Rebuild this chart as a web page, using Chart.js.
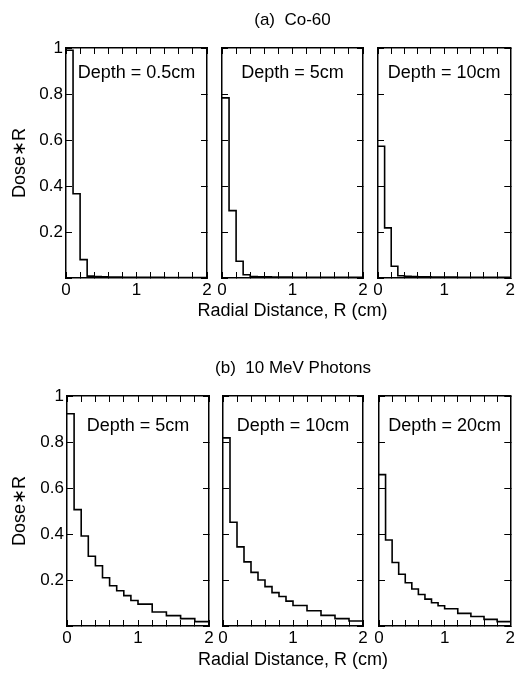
<!DOCTYPE html>
<html><head><meta charset="utf-8">
<script src="https://cdn.jsdelivr.net/npm/chart.js@4.4.1/dist/chart.umd.min.js"></script>
<style>
html,body{margin:0;padding:0;background:#fff;}
#wrap{position:relative;width:523px;height:674px;overflow:hidden;}
canvas{position:absolute;left:0;}
</style></head><body>
<div id="wrap">
<canvas id="a1" width="523" height="322" style="top:0"></canvas>
<canvas id="a2" width="523" height="322" style="top:0"></canvas>
<canvas id="a3" width="523" height="322" style="top:0"></canvas>
<canvas id="b1" width="523" height="349" style="top:325px"></canvas>
<canvas id="b2" width="523" height="349" style="top:325px"></canvas>
<canvas id="b3" width="523" height="349" style="top:325px"></canvas>
</div>
<script>
// ---- data ----
const binEdges = [0, 0.1, 0.2, 0.3, 0.4, 0.5, 0.6, 0.7, 0.8, 0.9, 1.0, 1.2, 1.4, 1.6, 1.8, 2.0];
const xLabelValues = [0, 1, 2];
const yLabelValues = [0.2, 0.4, 0.6, 0.8, 1];
const rowTitles = ['(a)  Co-60', '(b)  10 MeV Photons'];
const xAxisTitle = 'Radial Distance, R (cm)';
const yAxisTitle = 'Dose\u2217R';
const depthLabelsA = ['Depth = 0.5cm', 'Depth = 5cm', 'Depth = 10cm'];
const depthLabelsB = ['Depth = 5cm', 'Depth = 10cm', 'Depth = 20cm'];

const co60Depth05 = [0.99, 0.366, 0.08, 0.008, 0.006, 0.005, 0.004, 0.004, 0.003, 0.003, 0.003, 0.003, 0.002, 0.002, 0.002];
const co60Depth5  = [0.783, 0.293, 0.073, 0.014, 0.006, 0.005, 0.005, 0.004, 0.004, 0.004, 0.003, 0.003, 0.003, 0.003, 0.003];
const co60Depth10 = [0.573, 0.218, 0.051, 0.01, 0.007, 0.006, 0.005, 0.005, 0.004, 0.004, 0.004, 0.003, 0.003, 0.003, 0.003];
const mev10Depth5  = [0.923, 0.506, 0.391, 0.303, 0.262, 0.21, 0.175, 0.153, 0.132, 0.111, 0.095, 0.061, 0.045, 0.032, 0.019];
const mev10Depth10 = [0.818, 0.451, 0.344, 0.279, 0.233, 0.2, 0.171, 0.145, 0.128, 0.108, 0.089, 0.066, 0.046, 0.032, 0.022];
const mev10Depth20 = [0.658, 0.374, 0.276, 0.225, 0.188, 0.161, 0.137, 0.117, 0.101, 0.088, 0.075, 0.055, 0.041, 0.029, 0.019];

// ---- rendering ----
const FONT = '"Liberation Sans", Arial, Helvetica, sans-serif';
Chart.defaults.color = '#000';
Chart.defaults.font.family = FONT;

function stepPoints(vals) {
  const pts = vals.map((v, i) => ({x: binEdges[i], y: v}));
  pts.push({x: binEdges[binEdges.length - 1], y: vals[vals.length - 1]});
  return pts;
}
const near = (arr, v) => arr.some(t => Math.abs(t - v) < 1e-6);

const depthLabelPlugin = {
  id: 'depthLabel',
  afterDatasetsDraw(chart, args, opts) {
    const {ctx} = chart;
    const x = chart.scales.x, y = chart.scales.y;
    ctx.save();
    ctx.font = '18px ' + FONT;
    ctx.fillStyle = '#000';
    ctx.textAlign = 'center';
    ctx.textBaseline = 'middle';
    ctx.fillText(opts.text, x.getPixelForValue(opts.x), y.getPixelForValue(opts.y));
    ctx.restore();
  }
};

function makePanel(id, vals, cfg) {
  const border = {color: '#000', width: 1.5};
  const grid = {drawOnChartArea: false, tickLength: -6, color: '#000', lineWidth: 1};
  const mid = !!cfg.mid;
  const padLeft = cfg.showY ? 0 : (mid ? cfg.titleL : cfg.left);
  const padRight = mid ? 0 : 523 - cfg.right;
  const yWidth = cfg.showY ? cfg.left : (mid ? cfg.left - cfg.titleL : 0);
  const y2Width = mid ? 523 - cfg.right : 0;
  const xHeight = mid ? 20 : cfg.canvasH - cfg.bottom;
  new Chart(document.getElementById(id), {
    type: 'line',
    data: {datasets: [{data: stepPoints(vals), stepped: true, borderColor: '#000', borderWidth: 1.6,
      pointRadius: 0, fill: false, tension: 0}]},
    options: {
      responsive: false, animation: false, devicePixelRatio: 1,
      layout: {padding: {left: padLeft, right: padRight, top: mid ? 0 : cfg.top, bottom: 0}},
      plugins: {
        legend: {display: false}, tooltip: {enabled: false},
        title: {display: mid, text: mid ? cfg.title : '', color: '#000',
          font: {size: 17, weight: 'normal', family: FONT}, padding: {top: cfg.top - 38.2, bottom: 17.8}},
        subtitle: {display: mid, text: xAxisTitle, position: 'bottom', color: '#000',
          font: {size: 18, weight: 'normal', family: FONT}, padding: {top: cfg.subPadTop, bottom: cfg.subPadBottom}},
        depthLabel: {text: cfg.label, x: 1.0, y: cfg.labelY}
      },
      scales: {
        x: {type: 'linear', position: 'bottom', min: 0, max: 2, border, grid,
          ticks: {stepSize: 0.2, padding: 8, autoSkip: false, maxRotation: 0, color: '#000',
            font: {size: 17, family: FONT},
            callback: v => near(xLabelValues, v) ? String(Math.round(v)) : ''},
          afterFit(s) { s.height = xHeight; }
        },
        x2: {type: 'linear', position: 'top', min: 0, max: 2, border, grid,
          ticks: {stepSize: 0.2, display: false},
          afterFit(s) { s.height = 0; }
        },
        y: {type: 'linear', position: 'left', min: 0, max: 1, border, grid,
          ticks: {stepSize: 0.2, display: !!cfg.showY, padding: 9, autoSkip: false, color: '#000',
            font: {size: 17, family: FONT},
            callback: v => near(yLabelValues, v) ? String(+v.toFixed(1)) : ''},
          title: {display: !!cfg.showY, text: yAxisTitle, color: '#000', font: {size: 18, family: FONT},
            padding: {top: 9, bottom: 0}},
          afterFit(s) { s.width = yWidth; }
        },
        y2: {type: 'linear', position: 'right', min: 0, max: 1, border, grid,
          ticks: {stepSize: 0.2, display: false},
          afterFit(s) { s.width = y2Width; }
        }
      }
    },
    plugins: [depthLabelPlugin]
  });
}

const rowA = {canvasH: 322, top: 48, bottom: 278, labelY: 0.89, subPadTop: 2.4, subPadBottom: 0};
const rowB = {canvasH: 349, top: 71, bottom: 301, labelY: 0.87, subPadTop: 3.2, subPadBottom: 3.2};

makePanel('a1', co60Depth05, Object.assign({}, rowA, {left: 66, right: 207, showY: true, label: depthLabelsA[0]}));
makePanel('a2', co60Depth5, Object.assign({}, rowA, {left: 222, right: 363, mid: true, titleL: 62, label: depthLabelsA[1], title: rowTitles[0]}));
makePanel('a3', co60Depth10, Object.assign({}, rowA, {left: 378, right: 519, label: depthLabelsA[2]}));
makePanel('b1', mev10Depth5, Object.assign({}, rowB, {left: 67, right: 209, showY: true, label: depthLabelsB[0]}));
makePanel('b2', mev10Depth10, Object.assign({}, rowB, {left: 223, right: 363, mid: true, titleL: 63, label: depthLabelsB[1], title: rowTitles[1]}));
makePanel('b3', mev10Depth20, Object.assign({}, rowB, {left: 379, right: 519, label: depthLabelsB[2]}));
</script>
</body></html>
